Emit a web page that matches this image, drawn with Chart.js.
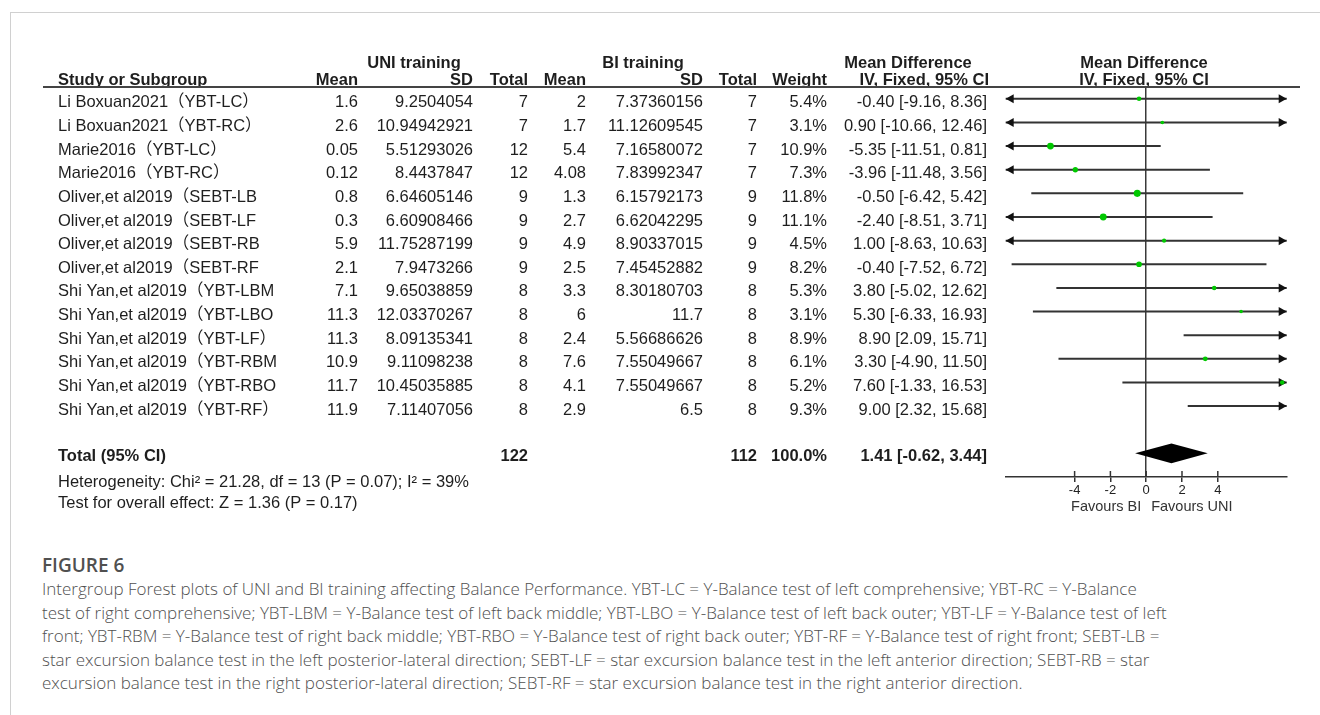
<!DOCTYPE html>
<html>
<head>
<meta charset="utf-8">
<script src="https://cdn.jsdelivr.net/npm/chart.js@4.4.1/dist/chart.umd.min.js"></script>
<style>
  html, body { margin: 0; padding: 0; background: #fff; }
  #page { position: relative; width: 1320px; height: 715px; overflow: hidden; }
  #frame { position: absolute; left: 10px; top: 12px; width: 1310px; height: 703px;
           border-left: 1px solid #d0d0d0; border-top: 1px solid #d0d0d0; }
  #plot { position: absolute; left: 0; top: 0; }
  #caption { position: absolute; left: 42px; top: 553px; font-family: "Open Sans", "Noto Sans", sans-serif; color: #505050; }
  #caption .fig { font-weight: 600; font-size: 19px; line-height: 24px; }
  #caption .cap { font-weight: 300; font-size: 17px; line-height: 23.5px; white-space: nowrap; }
</style>
</head>
<body>
<div id="page">
  <div id="frame"></div>
  <canvas id="plot" width="1320" height="530"></canvas>
  <div id="caption">
    <div class="fig">FIGURE 6</div>
    <div class="cap">Intergroup Forest plots of UNI and BI training affecting Balance Performance. YBT-LC = Y-Balance test of left comprehensive; YBT-RC = Y-Balance</div>
    <div class="cap">test of right comprehensive; YBT-LBM = Y-Balance test of left back middle; YBT-LBO = Y-Balance test of left back outer; YBT-LF = Y-Balance test of left</div>
    <div class="cap">front; YBT-RBM = Y-Balance test of right back middle; YBT-RBO = Y-Balance test of right back outer; YBT-RF = Y-Balance test of right front; SEBT-LB =</div>
    <div class="cap">star excursion balance test in the left posterior-lateral direction; SEBT-LF = star excursion balance test in the left anterior direction; SEBT-RB = star</div>
    <div class="cap">excursion balance test in the right posterior-lateral direction; SEBT-RF = star excursion balance test in the right anterior direction.</div>
  </div>
</div>
<script>
// Study rows
const studies = [
  "Li Boxuan2021（YBT-LC）",
  "Li Boxuan2021（YBT-RC）",
  "Marie2016（YBT-LC）",
  "Marie2016（YBT-RC）",
  "Oliver,et al2019（SEBT-LB",
  "Oliver,et al2019（SEBT-LF",
  "Oliver,et al2019（SEBT-RB",
  "Oliver,et al2019（SEBT-RF",
  "Shi Yan,et al2019（YBT-LBM",
  "Shi Yan,et al2019（YBT-LBO",
  "Shi Yan,et al2019（YBT-LF）",
  "Shi Yan,et al2019（YBT-RBM",
  "Shi Yan,et al2019（YBT-RBO",
  "Shi Yan,et al2019（YBT-RF）"
];

// UNI training group
const uniMean  = ["1.6", "2.6", "0.05", "0.12", "0.8", "0.3", "5.9", "2.1", "7.1", "11.3", "11.3", "10.9", "11.7", "11.9"];
const uniSD    = ["9.2504054", "10.94942921", "5.51293026", "8.4437847", "6.64605146", "6.60908466", "11.75287199",
                  "7.9473266", "9.65038859", "12.03370267", "8.09135341", "9.11098238", "10.45035885", "7.11407056"];
const uniTotal = [7, 7, 12, 12, 9, 9, 9, 9, 8, 8, 8, 8, 8, 8];

// BI training group
const biMean  = ["2", "1.7", "5.4", "4.08", "1.3", "2.7", "4.9", "2.5", "3.3", "6", "2.4", "7.6", "4.1", "2.9"];
const biSD    = ["7.37360156", "11.12609545", "7.16580072", "7.83992347", "6.15792173", "6.62042295", "8.90337015",
                 "7.45452882", "8.30180703", "11.7", "5.56686626", "7.55049667", "7.55049667", "6.5"];
const biTotal = [7, 7, 7, 7, 9, 9, 9, 9, 8, 8, 8, 8, 8, 8];

// Effect sizes (IV, fixed, 95% CI) and weights
const weight = [5.4, 3.1, 10.9, 7.3, 11.8, 11.1, 4.5, 8.2, 5.3, 3.1, 8.9, 6.1, 5.2, 9.3];
const meanDiff = [-0.40, 0.90, -5.35, -3.96, -0.50, -2.40, 1.00, -0.40, 3.80, 5.30, 8.90, 3.30, 7.60, 9.00];
const ciLower  = [-9.16, -10.66, -11.51, -11.48, -6.42, -8.51, -8.63, -7.52, -5.02, -6.33, 2.09, -4.90, -1.33, 2.32];
const ciUpper  = [8.36, 12.46, 0.81, 3.56, 5.42, 3.71, 10.63, 6.72, 12.62, 16.93, 15.71, 11.50, 16.53, 15.68];

// Pooled result
const totalUni = 122;
const totalBi = 112;
const totalWeight = 100.0;
const pooledMD = 1.41;
const pooledLower = -0.62;
const pooledUpper = 3.44;
const heterogeneityText = "Heterogeneity: Chi² = 21.28, df = 13 (P = 0.07); I² = 39%";
const overallEffectText = "Test for overall effect: Z = 1.36 (P = 0.17)";

// Axis
const axisTicks = [-4, -2, 0, 2, 4];
const axisMin = -7.85;
const axisMax = 7.85;
const totalRow = 15;

const FONT = '"Liberation Sans", Arial, "Noto Sans CJK SC", sans-serif';
const INK = '#1e1e1e';
const LINE = '#333';

function fmt2(v) { return v.toFixed(2); }
function ciLabel(m, lo, hi) { return fmt2(m) + ' [' + fmt2(lo) + ', ' + fmt2(hi) + ']'; }

const forestPlugin = {
  id: 'forestTable',
  beforeDatasetsDraw(chart) {
    const { ctx, scales: { x, y } } = chart;
    ctx.save();
    // confidence interval segments with arrows where they run off the axis
    ctx.strokeStyle = LINE;
    ctx.fillStyle = '#111';
    ctx.lineWidth = 2;
    for (let i = 0; i < studies.length; i++) {
      const py = y.getPixelForValue(i);
      const lo = Math.max(ciLower[i], axisMin);
      const hi = Math.min(ciUpper[i], axisMax);
      const x1 = x.getPixelForValue(lo), x2 = x.getPixelForValue(hi);
      ctx.beginPath();
      ctx.moveTo(x1, py);
      ctx.lineTo(x2, py);
      ctx.stroke();
      if (ciLower[i] < axisMin) {
        ctx.beginPath();
        ctx.moveTo(x1, py);
        ctx.lineTo(x1 + 8, py - 4.5);
        ctx.lineTo(x1 + 8, py + 4.5);
        ctx.closePath();
        ctx.fill();
      }
      if (ciUpper[i] > axisMax) {
        ctx.beginPath();
        ctx.moveTo(x2, py);
        ctx.lineTo(x2 - 8, py - 4.5);
        ctx.lineTo(x2 - 8, py + 4.5);
        ctx.closePath();
        ctx.fill();
      }
    }
    // pooled diamond
    const ty = y.getPixelForValue(totalRow);
    const half = y.getPixelForValue(totalRow + 0.42) - ty;
    ctx.fillStyle = '#000';
    ctx.beginPath();
    ctx.moveTo(x.getPixelForValue(pooledLower), ty);
    ctx.lineTo(x.getPixelForValue(pooledMD), ty - half);
    ctx.lineTo(x.getPixelForValue(pooledUpper), ty);
    ctx.lineTo(x.getPixelForValue(pooledMD), ty + half);
    ctx.closePath();
    ctx.fill();
    // tick marks also reach above the axis line
    ctx.strokeStyle = LINE;
    ctx.lineWidth = 1.5;
    axisTicks.forEach(v => {
      const px = x.getPixelForValue(v);
      ctx.beginPath();
      ctx.moveTo(px, y.bottom - 6);
      ctx.lineTo(px, y.bottom);
      ctx.stroke();
    });
    ctx.restore();
  },
  afterDraw(chart) {
    const { ctx, scales: { x, y } } = chart;
    ctx.save();
    ctx.fillStyle = INK;
    ctx.textBaseline = 'middle';
    const put = (s, px, py, align, bold, size) => {
      ctx.font = (bold ? 'bold ' : '') + (size || 16.5) + 'px ' + FONT;
      ctx.textAlign = align;
      ctx.fillText(s, px, py);
    };

    // header
    put('UNI training', 414, 63, 'center', true);
    put('BI training', 643, 63, 'center', true);
    put('Mean Difference', 908, 63, 'center', true);
    put('Mean Difference', 1144, 63, 'center', true);
    put('Study or Subgroup', 58, 80, 'left', true);
    put('Mean', 358, 80, 'right', true);
    put('SD', 473, 80, 'right', true);
    put('Total', 528, 80, 'right', true);
    put('Mean', 586, 80, 'right', true);
    put('SD', 703, 80, 'right', true);
    put('Total', 757, 80, 'right', true);
    put('Weight', 827, 80, 'right', true);
    put('IV, Fixed, 95% CI', 989, 80, 'right', true);
    put('IV, Fixed, 95% CI', 1144, 80, 'center', true);

    ctx.strokeStyle = '#444';
    ctx.lineWidth = 2;
    ctx.beginPath();
    ctx.moveTo(43, y.top);
    ctx.lineTo(1300, y.top);
    ctx.stroke();

    // study rows
    for (let i = 0; i < studies.length; i++) {
      const ty = y.getPixelForValue(i) + 4;
      put(studies[i], 58, ty, 'left');
      put(uniMean[i], 358, ty, 'right');
      put(uniSD[i], 473, ty, 'right');
      put(String(uniTotal[i]), 528, ty, 'right');
      put(biMean[i], 586, ty, 'right');
      put(biSD[i], 703, ty, 'right');
      put(String(biTotal[i]), 757, ty, 'right');
      put(weight[i].toFixed(1) + '%', 827, ty, 'right');
      put(ciLabel(meanDiff[i], ciLower[i], ciUpper[i]), 987, ty, 'right');
    }

    // total row
    const ty = y.getPixelForValue(totalRow) + 3;
    put('Total (95% CI)', 58, ty, 'left', true);
    put(String(totalUni), 528, ty, 'right', true);
    put(String(totalBi), 757, ty, 'right', true);
    put(totalWeight.toFixed(1) + '%', 827, ty, 'right', true);
    put(ciLabel(pooledMD, pooledLower, pooledUpper), 987, ty, 'right', true);
    put(heterogeneityText, 58, 482, 'left');
    put(overallEffectText, 58, 503, 'left');

    // favours labels
    const zx = x.getPixelForValue(0);
    ctx.fillStyle = '#333';
    put('Favours BI', zx - 5, 507, 'right', false, 14.5);
    put('Favours UNI', zx + 5, 507, 'left', false, 14.5);
    ctx.restore();
  }
};

new Chart(document.getElementById('plot'), {
  type: 'scatter',
  data: {
    datasets: [{
      data: meanDiff.map((v, i) => ({ x: v, y: i })),
      pointRadius: weight.map(w => 1.2 + 0.2 * w),
      pointBackgroundColor: '#00c800',
      pointBorderWidth: 0,
      clip: 0
    }]
  },
  options: {
    responsive: false,
    animation: false,
    events: [],
    layout: { padding: { left: 1005.7, right: 33.3, top: 87, bottom: 0 } },
    plugins: { legend: { display: false }, tooltip: { enabled: false } },
    scales: {
      x: {
        type: 'linear',
        min: axisMin,
        max: axisMax,
        afterBuildTicks: axis => { axis.ticks = axisTicks.map(v => ({ value: v })); },
        afterFit: scale => { scale.height = 530 - 477; },
        grid: {
          drawOnChartArea: true,
          color: c => (c.tick && c.tick.value === 0) ? '#3a3a3a' : 'rgba(0,0,0,0)',
          lineWidth: 1.5,
          tickColor: LINE,
          tickLength: 5
        },
        border: { display: true, color: LINE, width: 1.5 },
        ticks: { color: '#222', font: { family: FONT, size: 13 }, padding: 1, maxRotation: 0 }
      },
      y: { type: 'linear', display: false, reverse: true, min: -0.5, max: 16 }
    }
  },
  plugins: [forestPlugin]
});
</script>
</body>
</html>
